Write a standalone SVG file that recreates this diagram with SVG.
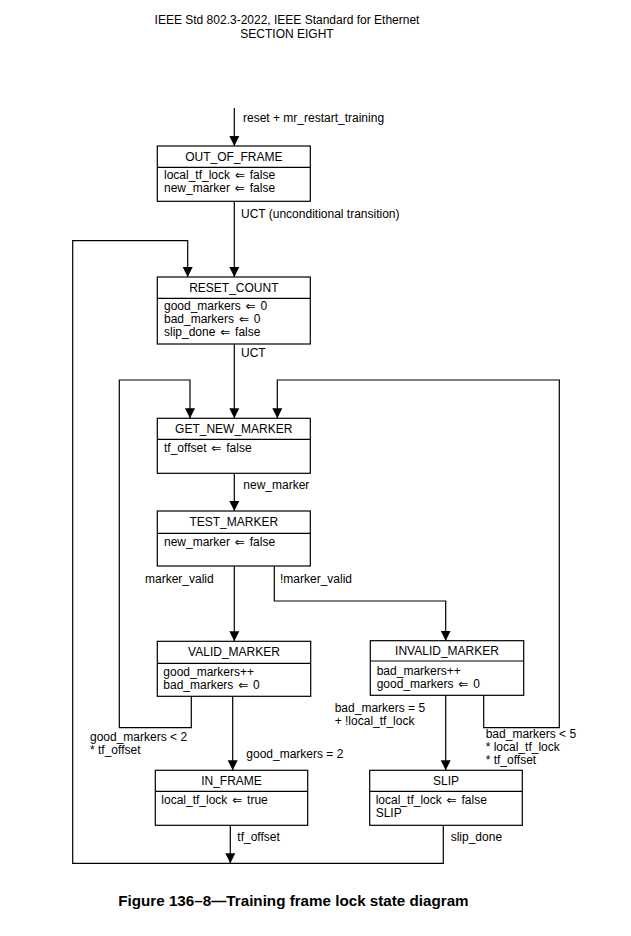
<svg xmlns="http://www.w3.org/2000/svg" width="631" height="936" viewBox="0 0 631 936">
<style>
text{font-family:"Liberation Sans",Arial,"DejaVu Sans",sans-serif;font-size:12px;fill:#000}
.c{text-anchor:middle}
.box{fill:#fff;stroke:#000;stroke-width:1.2}
.div{stroke:#000;stroke-width:1.2}
.ln{fill:none;stroke:#000;stroke-width:1.2}
.cap{font-weight:bold;font-size:15.2px}
</style>
<defs>
<marker id="ah" markerUnits="userSpaceOnUse" markerWidth="12" markerHeight="12" viewBox="0 0 12 12" refX="10" refY="6" orient="auto">
<path d="M0,1 L10,6 L0,11 Z" fill="#000"/>
</marker>
</defs>
<rect width="631" height="936" fill="#fff"/>
<text class="c" x="287" y="24">IEEE Std 802.3-2022, IEEE Standard for Ethernet</text>
<text class="c" x="287" y="38">SECTION EIGHT</text>

<g id="connectors">
<line class="ln" x1="234.3" y1="108" x2="234.3" y2="146" marker-end="url(#ah)"/>
<text x="243" y="122">reset + mr_restart_training</text>
<line class="ln" x1="234.3" y1="201" x2="234.3" y2="277" marker-end="url(#ah)"/>
<text x="241" y="218">UCT (unconditional transition)</text>
<polyline class="ln" points="443.3,824 443.3,863.3 72.7,863.3 72.7,240.7 187.7,240.7 187.7,277" marker-end="url(#ah)"/>
<line class="ln" x1="234.3" y1="344" x2="234.3" y2="418.3" marker-end="url(#ah)"/>
<text x="241" y="357">UCT</text>
<polyline class="ln" points="191.3,696.3 191.3,727.7 119.3,727.7 119.3,380 190,380 190,418.3" marker-end="url(#ah)"/>
<polyline class="ln" points="483.7,695.3 483.7,727.7 559.3,727.7 559.3,380 277.3,380 277.3,418.3" marker-end="url(#ah)"/>
<line class="ln" x1="234.3" y1="473.3" x2="234.3" y2="511" marker-end="url(#ah)"/>
<text x="243.3" y="489">new_marker</text>
<line class="ln" x1="234.3" y1="566" x2="234.3" y2="641.3" marker-end="url(#ah)"/>
<text x="145" y="583">marker_valid</text>
<polyline class="ln" points="274.3,566 274.3,601 445.7,601 445.7,640.7" marker-end="url(#ah)"/>
<text x="280" y="583">!marker_valid</text>
<line class="ln" x1="232.7" y1="696.3" x2="232.7" y2="770.3" marker-end="url(#ah)"/>
<text x="246.3" y="758">good_markers = 2</text>
<text x="90" y="740.5">good_markers &lt; 2</text>
<text x="90" y="753.5">* tf_offset</text>
<line class="ln" x1="445.7" y1="695.3" x2="445.7" y2="770.3" marker-end="url(#ah)"/>
<text x="334.7" y="711.5">bad_markers = 5</text>
<text x="334.7" y="724.5">+ !local_tf_lock</text>
<text x="485.7" y="738">bad_markers &lt; 5</text>
<text x="485.7" y="751">* local_tf_lock</text>
<text x="485.7" y="764">* tf_offset</text>
<line class="ln" x1="230.3" y1="825.3" x2="230.3" y2="863.3" marker-end="url(#ah)"/>
<text x="237.3" y="841">tf_offset</text>
<text x="450.7" y="841">slip_done</text>
</g>

<g id="OUT_OF_FRAME">
<rect class="box" x="157.3" y="146" width="153" height="55.3"/>
<line class="div" x1="157.3" y1="167.3" x2="310.3" y2="167.3"/>
<text class="c" x="233.8" y="161">OUT_OF_FRAME</text>
<text x="164" y="179">local_tf_lock <tspan dx="1.5">⇐</tspan><tspan dx="1.5"> false</tspan></text>
<text x="164" y="192">new_marker <tspan dx="1.5">⇐</tspan><tspan dx="1.5"> false</tspan></text>
</g>

<g id="RESET_COUNT">
<rect class="box" x="157.3" y="277" width="153" height="67"/>
<line class="div" x1="157.3" y1="298.3" x2="310.3" y2="298.3"/>
<text class="c" x="233.8" y="292">RESET_COUNT</text>
<text x="164" y="310">good_markers <tspan dx="1.5">⇐</tspan><tspan dx="1.5"> 0</tspan></text>
<text x="164" y="323">bad_markers <tspan dx="1.5">⇐</tspan><tspan dx="1.5"> 0</tspan></text>
<text x="164" y="336">slip_done <tspan dx="1.5">⇐</tspan><tspan dx="1.5"> false</tspan></text>
</g>

<g id="GET_NEW_MARKER">
<rect class="box" x="157.3" y="418.3" width="153" height="55"/>
<line class="div" x1="157.3" y1="439.3" x2="310.3" y2="439.3"/>
<text class="c" x="233.8" y="433">GET_NEW_MARKER</text>
<text x="164" y="452">tf_offset <tspan dx="1.5">⇐</tspan><tspan dx="1.5"> false</tspan></text>
</g>

<g id="TEST_MARKER">
<rect class="box" x="157.3" y="511" width="153" height="55"/>
<line class="div" x1="157.3" y1="533.3" x2="310.3" y2="533.3"/>
<text class="c" x="233.8" y="526">TEST_MARKER</text>
<text x="164" y="546">new_marker <tspan dx="1.5">⇐</tspan><tspan dx="1.5"> false</tspan></text>
</g>

<g id="VALID_MARKER">
<rect class="box" x="157.3" y="641.3" width="153.4" height="55"/>
<line class="div" x1="157.3" y1="663.3" x2="310.7" y2="663.3"/>
<text class="c" x="234" y="656">VALID_MARKER</text>
<text x="163.3" y="675.5">good_markers++</text>
<text x="163.3" y="688.5">bad_markers <tspan dx="1.5">⇐</tspan><tspan dx="1.5"> 0</tspan></text>
</g>

<g id="INVALID_MARKER">
<rect class="box" x="370.3" y="640.7" width="153.4" height="54.6"/>
<line class="div" x1="370.3" y1="661" x2="523.7" y2="661"/>
<text class="c" x="447" y="655">INVALID_MARKER</text>
<text x="376.7" y="674.5">bad_markers++</text>
<text x="376.7" y="687.5">good_markers <tspan dx="1.5">⇐</tspan><tspan dx="1.5"> 0</tspan></text>
</g>

<g id="IN_FRAME">
<rect class="box" x="155.3" y="770.3" width="152.4" height="55"/>
<line class="div" x1="155.3" y1="791.3" x2="307.7" y2="791.3"/>
<text class="c" x="231.5" y="785">IN_FRAME</text>
<text x="161.3" y="804">local_tf_lock <tspan dx="1.5">⇐</tspan><tspan dx="1.5"> true</tspan></text>
</g>

<g id="SLIP">
<rect class="box" x="369.7" y="770.3" width="152.6" height="55"/>
<line class="div" x1="369.7" y1="791.3" x2="522.3" y2="791.3"/>
<text class="c" x="446" y="785">SLIP</text>
<text x="375.7" y="803.5">local_tf_lock <tspan dx="1.5">⇐</tspan><tspan dx="1.5"> false</tspan></text>
<text x="375.7" y="816.5">SLIP</text>
</g>

<text class="cap" x="118.3" y="906">Figure 136–8—Training frame lock state diagram</text>
</svg>
